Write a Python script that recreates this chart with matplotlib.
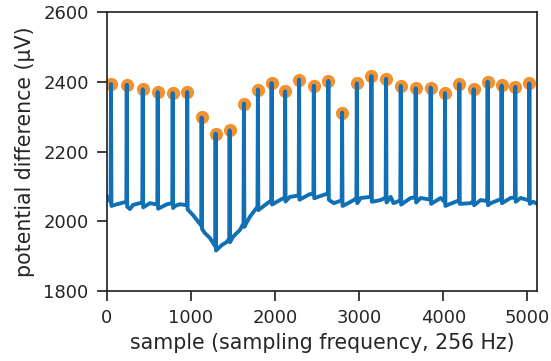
import numpy as np
import matplotlib
matplotlib.use("Agg")
import matplotlib.pyplot as plt

# R peaks: sample index and amplitude (uV)
r_sample = [51, 238, 428, 606, 784, 957, 1128, 1294, 1461, 1631,
            1797, 1960, 2121, 2287, 2462, 2635, 2798, 2973, 3147, 3321,
            3495, 3673, 3851, 4021, 4192, 4362, 4528, 4694, 4857, 5024]
r_value = [2394, 2392, 2379, 2371, 2368, 2371, 2298, 2252, 2261, 2338,
           2378, 2397, 2373, 2407, 2389, 2403, 2312, 2396, 2417, 2409,
           2389, 2382, 2384, 2368, 2394, 2379, 2401, 2390, 2386, 2396]
# signal level just before and just after each QRS complex
r_pre = [2056, 2056, 2054, 2048, 2052, 2046, 1988, 1928, 1950, 1994,
         2042, 2060, 2068, 2074, 2078, 2080, 2060, 2066, 2070, 2068,
         2060, 2068, 2062, 2056, 2060, 2058, 2058, 2064, 2068, 2060]
r_post = [2044, 2042, 2040, 2036, 2038, 2034, 1978, 1916, 1940, 1984,
          2032, 2048, 2057, 2062, 2066, 2062, 2044, 2052, 2056, 2054,
          2048, 2054, 2050, 2044, 2050, 2046, 2046, 2052, 2056, 2050]

# baseline between beats
base_sample = [0, 27, 122, 217, 276, 312, 419, 514, 609, 716,
               811, 870, 954, 1025, 1108, 1167, 1227, 1310, 1369, 1429,
               1500, 1583, 1666, 1702, 1821, 1939, 2058, 2177, 2296, 2414,
               2533, 2617, 2699, 2782, 2901, 3020, 3138, 3257, 3376, 3410,
               3613, 3732, 3851, 3970, 4053, 4207, 4326, 4445, 4564, 4683,
               4801, 4920, 5070, 5119]
base_value = [2072, 2052, 2049, 2052, 2035, 2047, 2049, 2052, 2042, 2049,
              2044, 2049, 2041, 2018, 1989, 1966, 1952, 1923, 1932, 1941,
              1955, 1975, 1998, 2013, 2042, 2056, 2061, 2070, 2072, 2078,
              2072, 2082, 2052, 2056, 2056, 2067, 2070, 2061, 2070, 2052,
              2067, 2067, 2056, 2067, 2047, 2056, 2052, 2061, 2052, 2061,
              2067, 2067, 2056, 2050]

n_samples = 5120
qrs_half = 5  # half width of the QRS spike, samples

# assemble the trace: baseline points plus a narrow spike per beat
r = np.array(r_sample)
bs = np.array(base_sample)
keep = np.array([np.min(np.abs(r - s)) > 25 for s in bs])
xs = list(bs[keep])
ys = list(np.array(base_value)[keep])
for s, v, a, b in zip(r_sample, r_value, r_pre, r_post):
    xs += [s - qrs_half, s, s + qrs_half]
    ys += [a, v, b]
order = np.argsort(xs, kind="stable")
xs = np.array(xs)[order]
ys = np.array(ys)[order]

plt.rcParams["font.family"] = "DejaVu Sans"
fig = plt.figure(figsize=(5.51, 3.61), dpi=100)
ax = fig.add_axes([0.1937, 0.194, 0.7815, 0.772])

ax.plot(r_sample, r_value, "o", color="#f39130", ms=8.5, zorder=1)
ax.plot(xs, ys, color="#1170b5", lw=2.8, zorder=2)

ax.set_xlim(0, n_samples - 1)
ax.set_ylim(1800, 2600)
ax.set_xticks([0, 1000, 2000, 3000, 4000, 5000])
ax.set_yticks([1800, 2000, 2200, 2400, 2600])
ax.set_xlabel("sample (sampling frequency, 256 Hz)", fontsize=14.8,
              color="#262626", labelpad=4)
ax.set_ylabel("potential difference (µV)", fontsize=14.8,
              color="#262626", labelpad=6)
ax.tick_params(direction="out", length=7, width=1.25, labelsize=13,
               colors="#262626", pad=6)
for sp in ax.spines.values():
    sp.set_linewidth(1.25)
    sp.set_color("#262626")

fig.savefig("out.png", dpi=100)
